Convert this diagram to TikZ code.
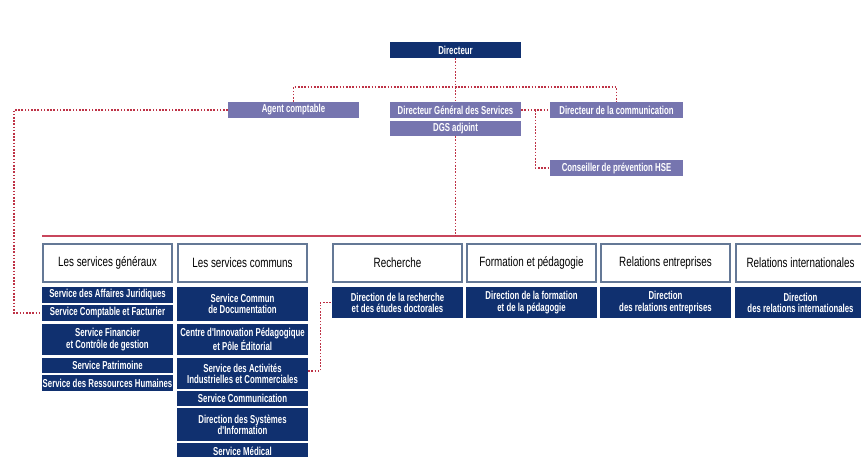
\documentclass[tikz,border=0pt]{standalone}
\usepackage{fontspec}
\setmainfont{Liberation Sans}
\newfontfamily\narrowfont{Liberation Sans}[FakeStretch=0.68]
\newfontfamily\headfont{Liberation Sans}[FakeStretch=0.73]
\definecolor{navy}{HTML}{10306F}
\definecolor{lavender}{HTML}{7675AF}
\definecolor{dotred}{HTML}{BE3246}
\definecolor{railred}{HTML}{C8465C}
\definecolor{frame}{HTML}{647896}
\usetikzlibrary{calc, positioning}

\begin{document}
\begin{tikzpicture}[x=1pt, y=-1pt,
  topbox/.style={fill=navy, text=white, minimum width=131pt, minimum height=16pt,
                 inner sep=0pt, font=\narrowfont\bfseries\fontsize{11.5}{11}\selectfont},
  staffbox/.style={fill=lavender, text=white, minimum width=131pt, minimum height=16pt,
                   inner sep=0pt, font=\narrowfont\bfseries\fontsize{11.5}{11}\selectfont},
  headbox/.style={draw=frame, line width=1.2pt, fill=white, minimum width=129pt,
                  minimum height=38pt, inner sep=0pt, font=\headfont\fontsize{13.5}{13.5}\selectfont},
  unitbox/.style={fill=navy, text=white, minimum width=131pt, align=center,
                  inner sep=0pt, font=\narrowfont\bfseries\fontsize{11.5}{11.2}\selectfont},
  link/.style={draw=dotred, line width=1.4pt, dash pattern=on 1.6pt off 1.6pt},
  rail/.style={draw=railred, line width=1.2pt},
]
\useasboundingbox (0,0) rectangle (861,457);

% direction
\node[topbox] (dir) at (455.5,50) {Directeur};
\node[staffbox] (agent) at (293.5,110) {Agent comptable};
\node[staffbox] (dgs) at (455.5,110) {Directeur Général des Services};
\node[staffbox, minimum height=15pt] (adj) at (455.5,128.5) {DGS adjoint};
\node[staffbox, minimum width=133pt] (comm) at (616.5,110) {Directeur de la communication};
\node[staffbox, minimum width=133pt] (hse) at (616.5,168) {Conseiller de prévention HSE};

% pôles
\node[headbox] (h1) at (107.5,263) {Les services généraux};
\node[headbox] (h2) at (242.5,263) {Les services communs};
\node[headbox] (h3) at (397.5,263) {Recherche};
\node[headbox] (h4) at (531.5,263) {Formation et pédagogie};
\node[headbox] (h5) at (665.5,263) {Relations entreprises};
\node[headbox] (h6) at (800.5,263) {Relations internationales};

% services généraux
\node[unitbox, minimum height=16pt] (g1) at (107.5,295) {Service des Affaires Juridiques};
\node[unitbox, minimum height=16pt] (g2) at (107.5,313) {Service Comptable et Facturier};
\node[unitbox, minimum height=31pt] (g3) at (107.5,339.5) {Service Financier\\et Contrôle de gestion};
\node[unitbox, minimum height=15pt] (g4) at (107.5,365.5) {Service Patrimoine};
\node[unitbox, minimum height=16pt] (g5) at (107.5,383) {Service des Ressources Humaines};

% services communs
\node[unitbox, minimum height=34pt] (c1) at (242.5,304) {Service Commun\\de Documentation};
\node[unitbox, minimum height=31pt] (c2) at (242.5,339.5) {Centre d'Innovation Pédagogique\\et Pôle Éditorial};
\node[unitbox, minimum height=31pt] (c3) at (242.5,373.5) {Service des Activités\\Industrielles et Commerciales};
\node[unitbox, minimum height=15pt] (c4) at (242.5,398.5) {Service Communication};
\node[unitbox, minimum height=33pt] (c5) at (242.5,424.5) {Direction des Systèmes\\d'Information};
\node[unitbox, minimum height=16pt] (c6) at (242.5,451) {Service Médical};

% directions
\node[unitbox, minimum height=31pt] (r3) at (397.5,302.5) {Direction de la recherche\\et des études doctorales};
\node[unitbox, minimum height=31pt] (r4) at (531.5,302.5) {Direction de la formation\\et de la pédagogie};
\node[unitbox, minimum height=31pt] (r5) at (665.5,302.5) {Direction\\des relations entreprises};
\node[unitbox, minimum height=31pt] (r6) at (800.5,302.5) {Direction\\des relations internationales};

% liaisons
\coordinate (bar) at (455.5,87);
\coordinate (railL) at (42,236);
\coordinate (railR) at (861,236);
\coordinate (leftbus) at (14,110);
\draw[rail] (railL) -- (railR);
\draw[link] (dir.south) -- (dgs.north);
\draw[link] (agent.north) |- (bar) -| (comm.north);
\draw[link] (dgs.east) -- (comm.west);
\draw[link] (dgs.east) ++(14,0) |- (hse.west);
\draw[link] (adj.south) -- (adj.south |- railL);
\draw[link] (agent.west) -- (leftbus) |- (g2.west);
\draw[link] (c3.east) ++(0,-2.5) -- ++(12,0) |- (r3.west);
\end{tikzpicture}
\end{document}
